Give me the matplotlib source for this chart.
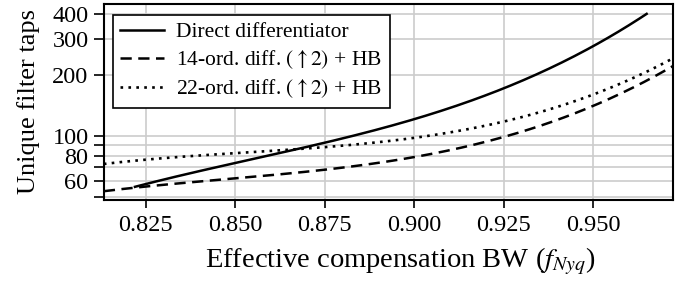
import numpy as np
import matplotlib.pyplot as plt
from matplotlib.ticker import FixedLocator, NullLocator

plt.rcParams['font.family'] = 'Liberation Serif'
plt.rcParams['mathtext.fontset'] = 'stix'
plt.rcParams['font.size'] = 17.5

# values
bw_direct = [0.822, 0.825, 0.850, 0.875, 0.900, 0.925, 0.950, 0.965]
taps_direct = [56, 58, 73.5, 92, 122, 172, 275, 403]

bw_hb = [0.8133, 0.825, 0.850, 0.875, 0.900, 0.925, 0.950, 0.9723]
taps_14 = [53.5, 56.5, 60.6, 68, 80.6, 99, 137, 224]
taps_22 = [73.6, 76, 79.6, 90, 100, 117, 156, 245]

labels = ['Direct differentiator',
          r'14-ord. diff. $(\uparrow 2)$ + HB',
          r'22-ord. diff. $(\uparrow 2)$ + HB']

y_ticks = [50, 60, 70, 80, 90, 100, 200, 300, 400]
y_ticklabels = ['', '60', '', '80', '', '100', '200', '300', '400']
x_ticks = [0.825, 0.850, 0.875, 0.900, 0.925, 0.950]

def smooth(x, y, n=200):
    xs = np.linspace(x[0], x[-1], n)
    c = np.polyfit(x, np.log(y), 3)
    return xs, np.exp(np.polyval(c, xs))

fig = plt.figure(figsize=(6.83, 2.82), dpi=100)
ax = fig.add_axes([0.152, 0.291, 0.833, 0.695])

xs, ys = smooth(bw_direct, taps_direct)
ax.plot(xs, ys, c='k', lw=1.8, label=labels[0])
xs, ys = smooth(bw_hb, taps_14)
ax.plot(xs, ys, c='k', lw=1.8, ls=(0, (4.5, 2.6)), label=labels[1])
xs, ys = smooth(bw_hb, taps_22)
ax.plot(xs, ys, c='k', lw=1.9, ls=(0, (1, 2)), label=labels[2])

ax.set_yscale('log')
ax.set_ylim(48.3, 449)
ax.set_xlim(0.8133, 0.9723)
ax.yaxis.set_major_locator(FixedLocator(y_ticks))
ax.yaxis.set_minor_locator(NullLocator())
ax.set_yticklabels(y_ticklabels)
ax.set_xticks(x_ticks)
ax.set_xticklabels(['%.3f' % v for v in x_ticks])

ax.grid(True, color='#cccccc', lw=1.2)
ax.set_axisbelow(True)
ax.tick_params(direction='out', length=7, width=1.2, pad=4)
ax.tick_params(axis='x', length=6, pad=5)
for s in ax.spines.values():
    s.set_linewidth(1.5)

ax.set_xlabel(r'Effective compensation BW ($f_{Nyq}$)', fontsize=20.5)
ax.xaxis.set_label_coords(0.522, -0.235)
ax.set_ylabel('Unique filter taps', fontsize=19, labelpad=9)

leg = ax.legend(loc='upper left', fancybox=False, framealpha=1, edgecolor='k',
                fontsize=15.5, handlelength=2.0, handletextpad=0.6,
                borderpad=0.35, labelspacing=0.3, borderaxespad=0,
                bbox_to_anchor=(0.016, 0.946))
leg.get_frame().set_linewidth(1.2)

fig.savefig('out.png', dpi=100)
